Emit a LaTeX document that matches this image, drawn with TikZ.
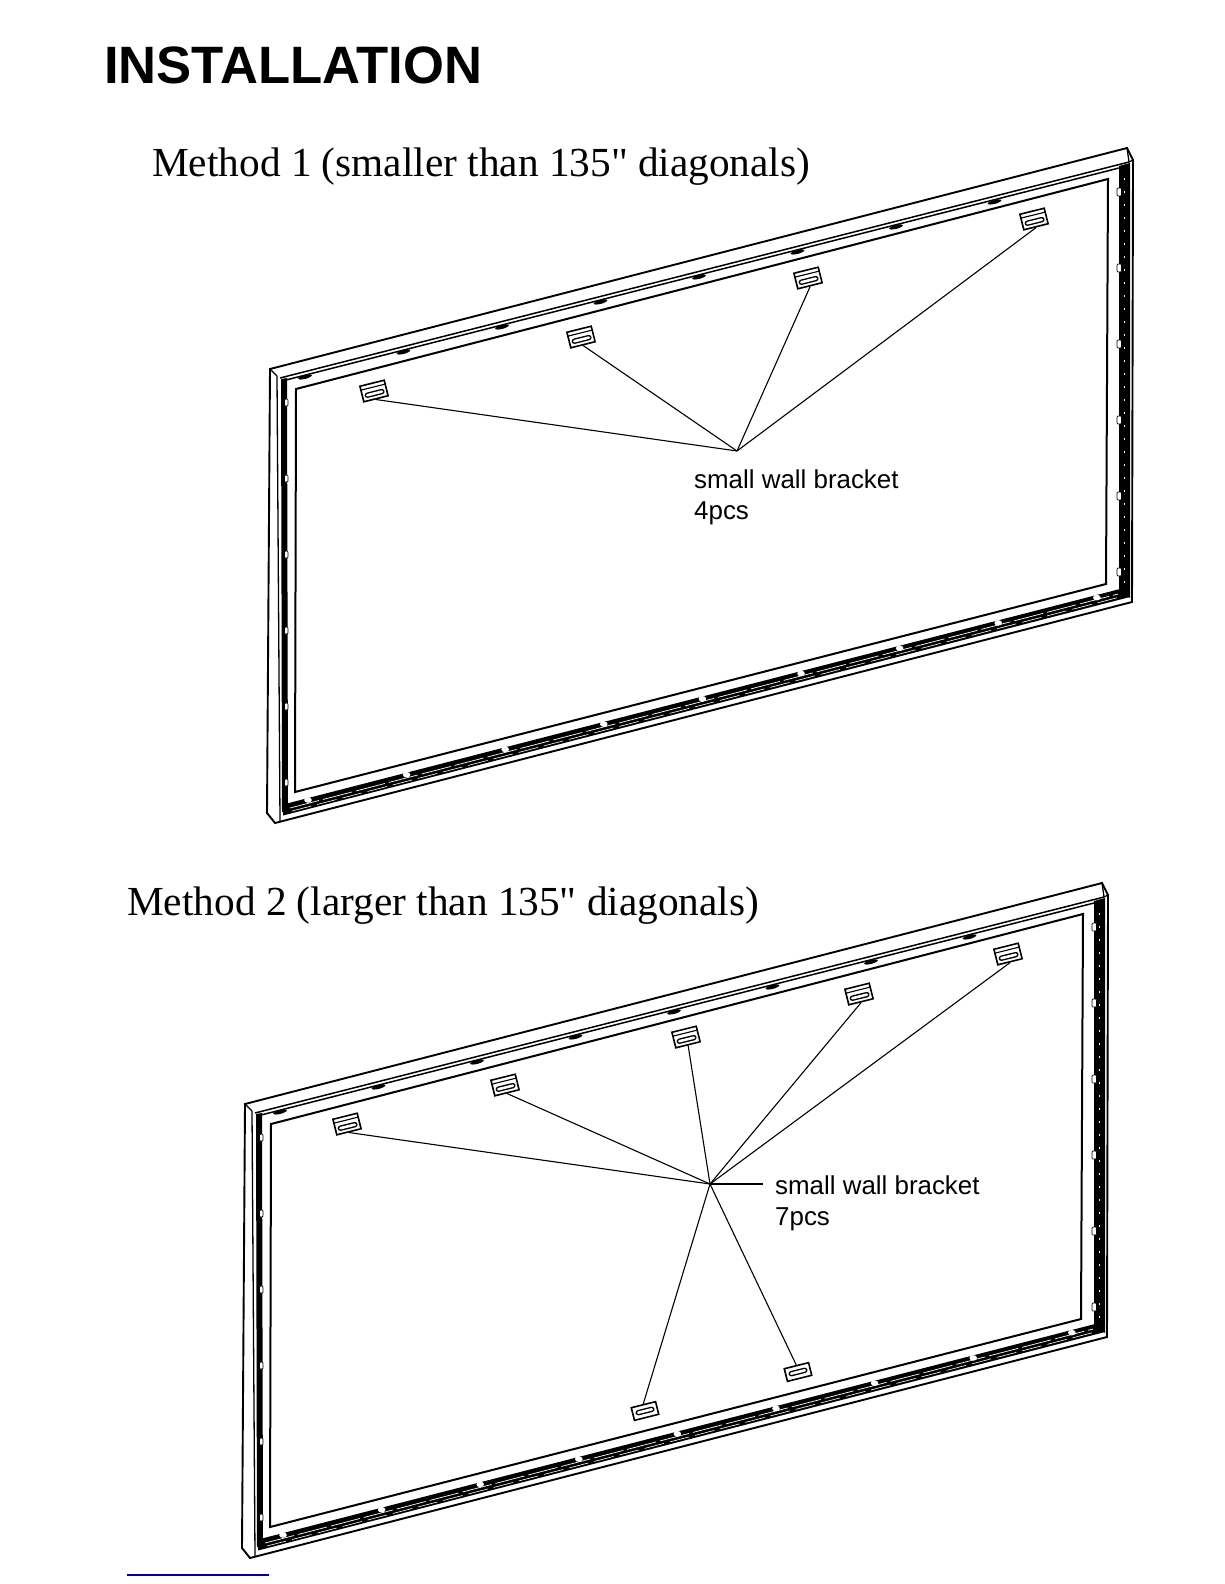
\documentclass[tikz,border=0pt]{standalone}
\usepackage{fontspec}
\newfontfamily\serf{Liberation Serif}
\newfontfamily\arialf{Liberation Sans}
\tikzset{
  x=1pt,y=-1pt,
  frameline/.style={line width=1.9pt,line join=miter},
  frameinner/.style={line width=2pt},
  leader/.style={line width=1.1pt},
  wbracket/.style={draw,fill=white,line width=1.6pt,rotate=14,minimum width=25pt,minimum height=16pt,inner sep=0pt},
  wbracketlow/.style={wbracket,minimum height=13pt},
  lbl/.style={font=\arialf\fontsize{25.9}{30}\selectfont,anchor=base west,inner sep=0pt,align=left},
  meth/.style={font=\serf\fontsize{41.3}{50}\selectfont,anchor=base west,inner sep=0pt},
}
\newcommand{\screenframe}[2]{%
\begin{scope}[shift={(#1,#2)}]
  \draw[frameline,fill=white] (270,369) -- (1127,148) -- (1133,160) -- (1132,602) -- (275,823) -- (267,813) -- cycle;
  \draw[line width=1.3pt] (270,369) -- (277,376);
  \draw[line width=1.3pt] (277,376) -- (280,821);
  \draw[line width=1.3pt] (1127,148) -- (1129,162) -- (1133,160);
  \draw[line width=1.5pt] (280,378) -- (1129,162);
  % dark channels
  \fill (281,379) -- (287,378) -- (288,810) -- (282,812) -- cycle;
  \fill (1119,166) -- (1130,163) -- (1130,598) -- (1119,590) -- cycle;
  \fill (283,804.5) -- (1120,589) -- (1130,597) -- (283,815.5) -- cycle;
  \draw[white,line width=0.7pt,dash pattern=on 30pt off 4pt] (290,808) -- (1118,594);
  \draw[white,line width=0.6pt,dash pattern=on 20pt off 6pt] (292,811) -- (1122,596.5);
  \draw[white,line width=0.7pt,dash pattern=on 2pt off 11pt] (1124,178) -- (1124,590);
  \draw[line width=1.5pt] (286,380) -- (1119,168);
  % opening
  \draw[frameinner,fill=white] (296,389) -- (1108,179) -- (1106,584) -- (295,792) -- cycle;
  % bumps on lower rail
  \foreach \t in {0,...,8}{
    \fill[white] ({308+\t*98.6},{800-\t*25.3}) ellipse (3.8pt and 2.8pt);
  }
  % tabs on upper rail
  \foreach \t in {0,...,7}{
    \fill[rotate around={14.5:({305+\t*98.5},{377-\t*25})}] ({305+\t*98.5},{377-\t*25}) ellipse (7pt and 1.9pt);
  }
  % side pegs
  \foreach \t in {0,...,5}{
    \draw[fill=white,line width=0.7pt,rounded corners=1pt] (284.5,{399+\t*76}) rectangle +(3.5,7);
  }
  \foreach \t in {0,...,5}{
    \draw[fill=white,line width=0.7pt,rounded corners=1pt] (1117,{188+\t*76}) rectangle +(4.5,8);
  }
\end{scope}}
% strip and slot of a bracket, in the bracket's own rotated frame
\newcommand{\wslot}[2]{%
  \begin{scope}[shift={(#1.center)},rotate=14]
    \draw[line width=1.1pt] (-12,{-#2}) -- (12,{-#2});
    \draw[line width=5.4pt,line cap=round] (-7.5,{3-#2*0.5+1.5}) -- (7.5,{3-#2*0.5+1.5});
    \draw[white,line width=2.6pt,line cap=round] (-7.5,{3-#2*0.5+1.5}) -- (7.5,{3-#2*0.5+1.5});
  \end{scope}}
\begin{document}
\begin{tikzpicture}
\useasboundingbox (0,0) rectangle (1224,1584);
\fill[white] (0,0) rectangle (1224,1584);
\node[font=\arialf\bfseries\fontsize{52.6}{60}\selectfont,anchor=base west,inner sep=0pt] (title) at (104,84) {INSTALLATION};
\node[meth] (m1) at (152,176) {Method 1 (smaller than 135" diagonals)};
\node[meth] (m2) at (127,915) {Method 2 (larger than 135" diagonals)};

\screenframe{0}{0}
\screenframe{-25}{735}

% method 1
\node[wbracket] (a1) at (374,391) {};
\node[wbracket] (a2) at (581,337) {};
\node[wbracket] (a3) at (808,278) {};
\node[wbracket] (a4) at (1034,219) {};
\coordinate (ap1) at (737,451);
\foreach \n in {a1,a2,a3,a4}{\draw[leader] (\n.south) -- (ap1); \wslot{\n}{4}}
\node[lbl] (t1) at (694,488) {small wall bracket};
\node[lbl] (t1b) at (694,519) {4pcs};

% method 2
\node[wbracket] (b1) at (347,1124) {};
\node[wbracket] (b2) at (505,1085) {};
\node[wbracket] (b3) at (686,1037) {};
\node[wbracket] (b4) at (859,994) {};
\node[wbracket] (b5) at (1008,954) {};
\node[wbracketlow] (b6) at (798,1372) {};
\node[wbracketlow] (b7) at (645,1411) {};
\coordinate (ap2) at (710,1184);
\coordinate (ap2e) at (763,1184);
\foreach \n in {b1,b2,b3,b4,b5}{\draw[leader] (\n.south) -- (ap2); \wslot{\n}{4}}
\foreach \n in {b6,b7}{\draw[leader] (\n.north) -- (ap2);
  \begin{scope}[shift={(\n.center)},rotate=14]
    \draw[line width=5.4pt,line cap=round] (-7,0) -- (7,0);
    \draw[white,line width=2.6pt,line cap=round] (-7,0) -- (7,0);
  \end{scope}}
\draw[leader] (ap2) -- (ap2e);
\node[lbl] (t2) at (775,1194) {small wall bracket};
\node[lbl] (t2b) at (775,1225) {7pcs};

\coordinate (u1) at (127,1575);
\coordinate (u2) at (269,1575);
\draw[blue!65!black,line width=1.2pt] (u1) -- (u2);
\end{tikzpicture}
\end{document}
